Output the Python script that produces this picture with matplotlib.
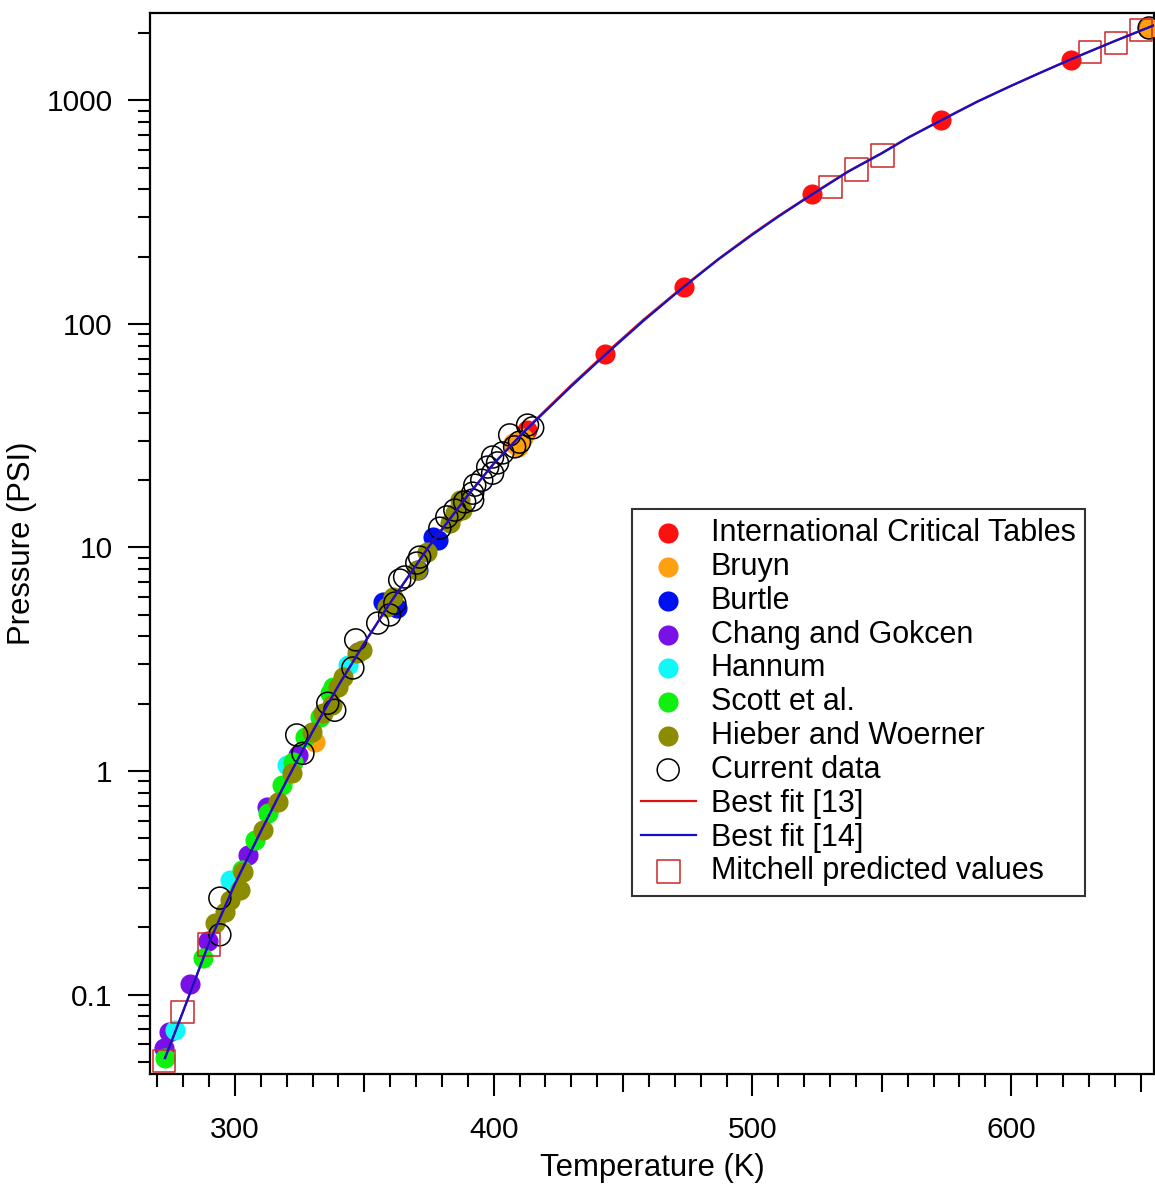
import numpy as np
import matplotlib.pyplot as plt
from matplotlib.ticker import MultipleLocator, FixedLocator, LogLocator, FuncFormatter, NullFormatter

plt.rcParams['font.family'] = ['Liberation Sans', 'DejaVu Sans']

# International Critical Tables
ict_T = [412.7, 442.9, 473.4, 523.2, 573.0, 623.2, 653.0]
ict_P = [33.5, 73.4, 146, 381, 818, 1518, 2110]

# Bruyn
bruyn_T = [330.9, 407.3, 409.3, 411.2, 653.3]
bruyn_P = [1.35, 29.3, 28.2, 30.9, 2110]

# Burtle
burtle_T = [357.1, 362.5, 370.6, 376.4, 378.4]
burtle_P = [5.7, 5.36, 7.9, 11.1, 10.8]

# Chang and Gokcen
chang_T = [272.6, 274.5, 282.6, 289.6, 305.0, 312.4, 324.3, 347.5]
chang_P = [0.0576, 0.068, 0.111, 0.174, 0.421, 0.69, 1.18, 3.41]

# Hannum
hannum_T = [276.8, 298.1, 320.1, 343.6]
hannum_P = [0.0694, 0.325, 1.06, 2.98]

# Scott et al.
scott_T = [273.0, 287.6, 302.7, 307.7, 312.7, 318.1, 322.4, 327.0, 332.8, 336.7, 337.8]
scott_P = [0.052, 0.146, 0.361, 0.491, 0.649, 0.866, 1.10, 1.42, 1.74, 2.23, 2.38]

# Hieber and Woerner
hieber_T = [292.3, 296.1, 298.1, 301.9, 303.1, 310.8, 316.6, 322.0, 329.7, 334.0, 337.5,
            339.8, 341.7, 347.1, 349.0, 358.7, 361.0, 370.3, 374.1, 383.0, 385.0, 387.6, 386.9]
hieber_P = [0.209, 0.234, 0.265, 0.294, 0.353, 0.545, 0.727, 0.98, 1.49, 1.82, 1.97,
            2.38, 2.63, 3.37, 3.48, 5.42, 6.0, 7.93, 9.55, 12.9, 14.3, 14.7, 16.3]

# Current data
cur_T = [294.2, 294.2, 323.9, 326.3, 335.9, 338.6, 345.6, 346.7, 355.2, 359.8, 361.8, 363.7,
         365.6, 370.3, 371.4, 379.2, 381.9, 385.0, 388.8, 391.9, 391.9, 392.7, 395.4, 397.7,
         399.6, 399.6, 401.5, 403.5, 406.2, 408.1, 410.0, 413.1, 415.1, 653.3]
cur_P = [0.185, 0.270, 1.45, 1.20, 2.01, 1.87, 2.89, 3.86, 4.59, 4.99, 5.64, 7.15,
         7.38, 8.52, 9.06, 12.2, 13.7, 14.7, 16.0, 16.3, 17.5, 19.0, 20.0, 22.9,
         21.5, 25.4, 23.9, 26.5, 31.9, 28.2, 29.6, 35.3, 34.3, 2110]

# Best fit curves
fit_T = [273, 280, 290, 300, 310, 320, 330, 340, 350, 360, 375, 390, 400, 413, 430,
         443, 458, 473, 487, 500, 510, 523, 537, 550, 560, 573, 587, 600, 610, 623, 640, 656]
fit13_P = [0.052, 0.0841, 0.170, 0.312, 0.536, 0.906, 1.50, 2.41, 3.73, 5.65, 10.1, 17.1,
           23.7, 34.3, 53.3, 73.4, 104.8, 146, 196, 253, 304, 381, 482, 582, 681, 818,
           991, 1164, 1312, 1528, 1845, 2188]
fit14_P = [0.052, 0.0841, 0.170, 0.312, 0.536, 0.906, 1.50, 2.41, 3.73, 5.65, 10.1, 17.1,
           23.7, 34.0, 52.6, 72.5, 103.5, 145, 195, 251, 302, 379, 480, 580, 679, 815,
           988, 1162, 1310, 1526, 1843, 2188]

# Mitchell predicted values
mit_T = [272.6, 279.9, 290.0, 530.1, 540.2, 550.2, 630.5, 640.5, 650.2]
mit_P = [0.0504, 0.0835, 0.168, 410, 489, 565, 1648, 1807, 2066]

fig = plt.figure(figsize=(11.55, 11.85), dpi=100)
ax = fig.add_axes([150 / 1155, 111 / 1185, 1004 / 1155, 1061 / 1185])

s_fill = 210
ax.scatter(ict_T, ict_P, s=s_fill, color='#ff1010', lw=0, label='International Critical Tables', zorder=3)
ax.scatter(bruyn_T, bruyn_P, s=s_fill, color='#ffa010', lw=0, label='Bruyn', zorder=3)
ax.scatter(burtle_T, burtle_P, s=s_fill, color='#0010f0', lw=0, label='Burtle', zorder=3)
ax.scatter(chang_T, chang_P, s=s_fill, color='#7a10e8', lw=0, label='Chang and Gokcen', zorder=3)
ax.scatter(hannum_T, hannum_P, s=s_fill, color='#10f8f8', lw=0, label='Hannum', zorder=3)
ax.scatter(scott_T, scott_P, s=s_fill, color='#10f010', lw=0, label='Scott et al.', zorder=3)
ax.scatter(hieber_T, hieber_P, s=s_fill, color='#8c8c00', lw=0, label='Hieber and Woerner', zorder=3)
ax.scatter(cur_T, cur_P, s=250, facecolors='none', edgecolors='black', lw=1.1,
           label='Current data', zorder=4)
ax.plot(fit_T, fit13_P, color='#e01010', lw=1.6, label='Best fit [13]', zorder=5)
ax.plot(fit_T, fit14_P, color='#1010d0', lw=1.6, label='Best fit [14]', zorder=6)
ax.scatter(mit_T, mit_P, s=270, marker='s', facecolors='none', edgecolors='#cc2828', lw=1.1,
           label='Mitchell predicted values', zorder=4.5)

ax.set_yscale('log')
ax.set_xlim(267.2, 655.2)
ax.set_ylim(0.0441, 2462)

ax.xaxis.set_major_locator(MultipleLocator(100))
ax.xaxis.set_minor_locator(FixedLocator([t for t in range(270, 660, 10) if t % 50 != 0]))
ax.yaxis.set_major_locator(LogLocator(base=10, numticks=20))
ax.yaxis.set_minor_locator(LogLocator(base=10, subs=np.arange(2, 10), numticks=20))
ax.yaxis.set_major_formatter(FuncFormatter(lambda v, p: '{:g}'.format(v)))
ax.yaxis.set_minor_formatter(NullFormatter())

ax.tick_params(axis='both', which='major', direction='out', length=16, width=1.5,
               labelsize=21.5, top=False, right=False)
ax.tick_params(axis='x', which='major', pad=14)
ax.tick_params(axis='y', which='major', pad=11)
ax.tick_params(axis='both', which='minor', direction='out', length=9, width=1.5,
               top=False, right=False)

sec = ax.secondary_xaxis('bottom')
sec.set_xticks([350, 450, 550, 650])
sec.tick_params(direction='out', length=13, width=1.5, labelbottom=False)
sec.spines['bottom'].set_visible(False)

for sp in ax.spines.values():
    sp.set_linewidth(1.6)

ax.set_xlabel('Temperature (K)', fontsize=22.4, labelpad=7)
ax.set_ylabel('Pressure (PSI)', fontsize=22.4, labelpad=7)

leg = ax.legend(loc='upper left', bbox_to_anchor=(0.4796, 0.5325), borderaxespad=0,
                fontsize=22, frameon=True, fancybox=False, edgecolor='black',
                scatterpoints=1, handlelength=1.8, handletextpad=0.5,
                labelspacing=0.125, borderpad=0.3)
leg.get_frame().set_linewidth(1.5)

fig.savefig('out.png', dpi=100)
